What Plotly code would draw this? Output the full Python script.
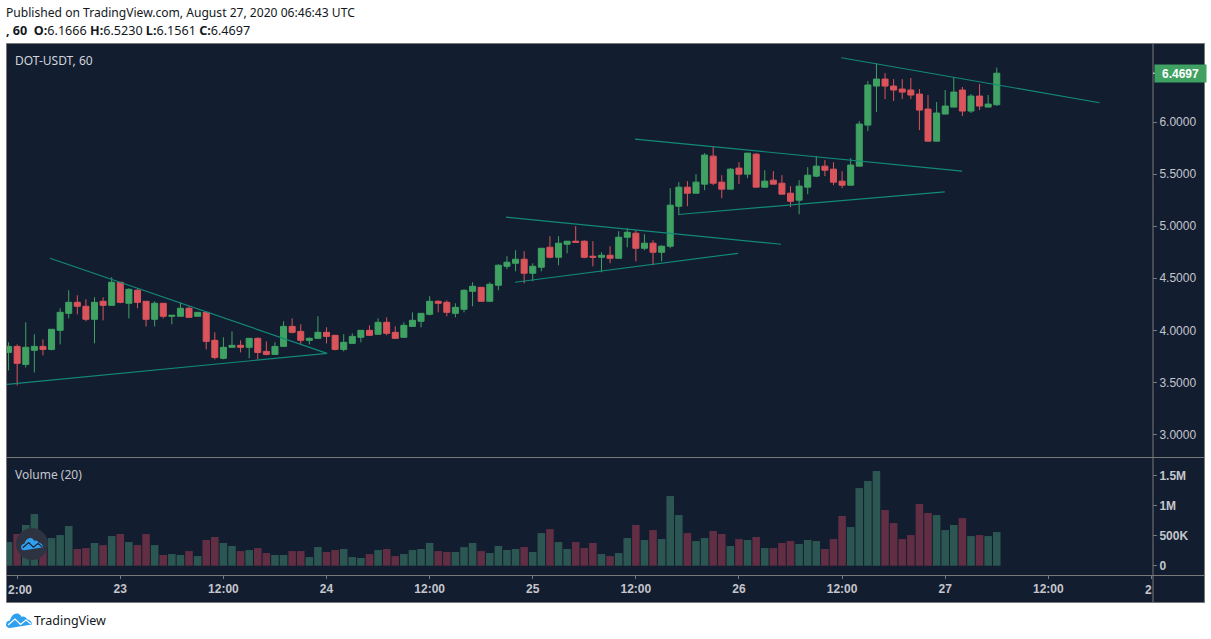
import pandas as pd
import plotly.graph_objects as go
from plotly.subplots import make_subplots

W = 1211
H = 639

# hourly candles
times = pd.date_range("2020-08-22 11:00", periods=116, freq="h")
opens = [3.788, 3.846, 3.673, 3.808, 3.846, 3.817, 4.0, 4.163, 4.269, 4.231, 4.106, 4.279, 4.24,
         4.462, 4.26, 4.385, 4.279, 4.106, 4.26, 4.135, 4.135, 4.212, 4.135, 4.173, 3.904, 3.731,
         3.837, 3.856, 3.837, 3.923, 3.798, 3.769, 3.846, 4.038, 3.99, 3.904, 3.923, 3.981, 3.952,
         3.817, 3.875, 3.933, 4.0, 3.962, 4.077, 3.981, 3.933, 4.038, 4.087, 4.154, 4.279, 4.269,
         4.163, 4.202, 4.375, 4.413, 4.279, 4.433, 4.615, 4.644, 4.683, 4.548, 4.606, 4.798, 4.702,
         4.827, 4.856, 4.856, 4.712, 4.702, 4.721, 4.692, 4.894, 4.933, 4.788, 4.837, 4.75, 4.808,
         5.192, 5.375, 5.317, 5.404, 5.673, 5.423, 5.356, 5.558, 5.5, 5.692, 5.375, 5.442, 5.413,
         5.317, 5.25, 5.375, 5.481, 5.577, 5.548, 5.433, 5.394, 5.577, 5.971, 6.346, 6.413, 6.346,
         6.317, 6.308, 6.269, 6.125, 5.817, 6.077, 6.144, 6.308, 6.106, 6.25, 6.144, 6.1666]
highs = [3.885, 3.865, 4.077, 3.962, 3.913, 4.01, 4.212, 4.385, 4.337, 4.298, 4.317, 4.317, 4.51,
         4.462, 4.404, 4.404, 4.279, 4.279, 4.26, 4.144, 4.269, 4.231, 4.173, 4.183, 3.981, 3.933,
         3.99, 3.904, 3.923, 3.933, 3.894, 3.885, 4.087, 4.115, 4.058, 3.933, 4.135, 4.029, 3.952,
         3.962, 3.971, 4.0, 4.048, 4.115, 4.125, 4.038, 4.077, 4.173, 4.163, 4.327, 4.288, 4.288,
         4.26, 4.394, 4.462, 4.413, 4.462, 4.635, 4.712, 4.769, 4.76, 4.644, 4.788, 4.904, 4.904,
         4.856, 5.0, 4.865, 4.856, 4.75, 4.808, 4.952, 4.981, 4.962, 4.923, 4.865, 4.817, 5.365,
         5.423, 5.433, 5.5, 5.702, 5.769, 5.49, 5.558, 5.615, 5.702, 5.702, 5.538, 5.529, 5.49,
         5.385, 5.442, 5.567, 5.673, 5.635, 5.615, 5.529, 5.654, 6.01, 6.394, 6.567, 6.471, 6.413,
         6.413, 6.423, 6.317, 6.26, 6.192, 6.308, 6.433, 6.337, 6.269, 6.365, 6.26, 6.523]
lows = [3.615, 3.471, 3.644, 3.596, 3.76, 3.808, 3.865, 4.115, 4.154, 4.087, 3.875, 4.096, 4.24,
        4.26, 4.115, 4.212, 4.038, 4.038, 4.115, 4.058, 4.135, 4.125, 4.135, 3.817, 3.721, 3.721,
        3.837, 3.788, 3.731, 3.721, 3.76, 3.769, 3.846, 3.971, 3.865, 3.865, 3.923, 3.875, 3.808,
        3.798, 3.875, 3.885, 3.952, 3.962, 3.952, 3.923, 3.933, 4.038, 4.029, 4.144, 4.173, 4.135,
        4.125, 4.173, 4.231, 4.279, 4.279, 4.385, 4.587, 4.567, 4.452, 4.471, 4.567, 4.692, 4.625,
        4.74, 4.846, 4.692, 4.615, 4.558, 4.644, 4.692, 4.798, 4.663, 4.769, 4.625, 4.663, 4.788,
        5.106, 5.192, 5.317, 5.346, 5.394, 5.269, 5.356, 5.404, 5.462, 5.375, 5.375, 5.404, 5.308,
        5.183, 5.115, 5.308, 5.471, 5.481, 5.394, 5.365, 5.394, 5.577, 5.913, 6.096, 6.221, 6.202,
        6.221, 6.221, 5.923, 5.817, 5.817, 6.077, 6.144, 6.058, 6.087, 6.115, 6.144, 6.1561]
closes = [3.846, 3.683, 3.837, 3.846, 3.817, 4.01, 4.173, 4.269, 4.231, 4.106, 4.269, 4.24, 4.462,
          4.269, 4.394, 4.269, 4.106, 4.26, 4.135, 4.144, 4.212, 4.125, 4.173, 3.894, 3.74, 3.837,
          3.856, 3.837, 3.923, 3.788, 3.769, 3.846, 4.038, 3.981, 3.904, 3.923, 3.981, 3.942, 3.817,
          3.885, 3.942, 4.0, 3.952, 4.077, 3.971, 3.923, 4.048, 4.096, 4.163, 4.279, 4.26, 4.173,
          4.221, 4.385, 4.423, 4.279, 4.442, 4.625, 4.654, 4.683, 4.548, 4.615, 4.788, 4.702, 4.837,
          4.856, 4.846, 4.702, 4.702, 4.721, 4.692, 4.894, 4.942, 4.788, 4.837, 4.75, 4.808, 5.202,
          5.375, 5.317, 5.423, 5.683, 5.413, 5.356, 5.548, 5.5, 5.702, 5.375, 5.433, 5.404, 5.308,
          5.24, 5.385, 5.49, 5.577, 5.538, 5.423, 5.394, 5.587, 5.981, 6.356, 6.413, 6.346, 6.308,
          6.288, 6.26, 6.115, 5.817, 6.087, 6.154, 6.288, 6.106, 6.25, 6.154, 6.173, 6.4697]
volumes = [394, 528, 678, 861, 300, 461, 511, 661, 278, 294, 378, 344, 494, 528, 394, 344, 528, 344,
           178, 194, 178, 244, 161, 428, 478, 378, 328, 244, 261, 294, 211, 178, 178, 244, 244, 144,
           311, 228, 261, 278, 144, 128, 194, 261, 278, 161, 194, 261, 278, 378, 244, 228, 228, 311,
           378, 244, 211, 328, 261, 278, 311, 228, 544, 611, 394, 278, 394, 294, 378, 194, 161, 211,
           461, 678, 428, 594, 444, 1161, 844, 544, 411, 461, 578, 528, 328, 444, 428, 478, 294, 294,
           378, 411, 361, 428, 411, 278, 444, 828, 644, 1294, 1411, 1578, 928, 711, 444, 511, 1028,
           878, 844, 594, 678, 794, 494, 511, 494, 561]
volumes = [v * 1000 for v in volumes]

# drawn trend lines as (start, end) time and price
line_times = [("2020-08-22 15:49", "2020-08-24 00:04"),
              ("2020-08-22 10:49", "2020-08-24 00:04"),
              ("2020-08-24 20:53", "2020-08-26 04:54"),
              ("2020-08-24 21:56", "2020-08-25 23:53"),
              ("2020-08-25 11:54", "2020-08-27 01:58"),
              ("2020-08-25 16:56", "2020-08-26 23:57"),
              ("2020-08-26 11:55", "2020-08-27 17:58")]
line_prices = [(4.692, 3.779), (3.481, 3.779), (5.087, 4.827), (4.462, 4.74),
               (5.837, 5.529), (5.1125, 5.33), (6.618, 6.186)]

price_ticks = [3, 3.5, 4, 4.5, 5, 5.5, 6]
price_labels = ["3.0000", "3.5000", "4.0000", "4.5000", "5.0000", "5.5000", "6.0000"]
vol_ticks = [0, 500000, 1000000, 1500000]
vol_labels = ["0", "500K", "1M", "1.5M"]
time_ticks = ["2020-08-22 12:00", "2020-08-23 00:00", "2020-08-23 12:00", "2020-08-24 00:00",
              "2020-08-24 12:00", "2020-08-25 00:00", "2020-08-25 12:00", "2020-08-26 00:00",
              "2020-08-26 12:00", "2020-08-27 00:00", "2020-08-27 12:00", "2020-08-28 00:00"]
time_labels = ["", "23", "12:00", "24", "12:00", "25", "12:00", "26", "12:00", "27", "12:00", ""]

BG = "#131d30"
EDGE = "#787878"
UP = "#3fa263"
DOWN = "#db545b"
UP_VOL = "#2c5652"
DOWN_VOL = "#612e43"
TREND = "#128a78"
AXIS_TEXT = "#c4c6cc"


def px(x):
    return x / W


def py(y):
    return 1 - y / H


def cloud_path(x, y, s):
    # little cloud of the logo, x/y in page pixels
    pts = "M {} {} C {} {} {} {} {} {} C {} {} {} {} {} {} C {} {} {} {} {} {} C {} {} {} {} {} {} C {} {} {} {} {} {} C {} {} {} {} {} {} Z"
    raw = [(4, 15), (1, 15), (0, 13), (0, 11.5), (0, 9), (2, 7.5), (4, 7.5), (5, 3), (8, 0.5), (11, 0.5),
           (13.5, 0.5), (15, 2.5), (15.5, 4), (17, 3), (20, 3.5), (21, 6.5), (24, 6.5), (26, 9), (26, 11.5),
           (26, 13.5), (24, 15), (22, 15)]
    vals = []
    for a, b in raw:
        vals += [round(px(x + a * s), 5), round(py(y + b * s), 5)]
    return pts.format(*vals[:44])


def zigzag_path(x, y, s):
    raw = [(2, 12), (9, 6), (14.5, 11.5), (20, 7), (25, 11)]
    return " ".join(("M" if i == 0 else "L") + f" {px(x + a * s):.5f} {py(y + b * s):.5f}"
                    for i, (a, b) in enumerate(raw))


fig = make_subplots(rows=2, cols=1, shared_xaxes=True, vertical_spacing=0)

fig.add_trace(go.Candlestick(x=times, open=opens, high=highs, low=lows, close=closes,
                             increasing=dict(line=dict(color=UP, width=1), fillcolor=UP),
                             decreasing=dict(line=dict(color=DOWN, width=1), fillcolor=DOWN),
                             showlegend=False), row=1, col=1)

for t, p in zip(line_times, line_prices):
    fig.add_trace(go.Scatter(x=list(t), y=list(p), mode="lines", line=dict(color=TREND, width=1.2),
                             showlegend=False, hoverinfo="skip"), row=1, col=1)

vol_colors = [UP_VOL if c >= o else DOWN_VOL for o, c in zip(opens, closes)]
fig.add_trace(go.Bar(x=times, y=volumes, marker=dict(color=vol_colors, line=dict(width=0)),
                     showlegend=False), row=2, col=1)

x_range = ["2020-08-22 10:49", "2020-08-28 00:04"]
x_domain = [px(7), px(1152)]
fig.update_xaxes(range=x_range, domain=x_domain, showgrid=False, zeroline=False, showline=False,
                 rangeslider_visible=False)
fig.update_xaxes(showticklabels=False, ticks="", row=1, col=1)
fig.update_xaxes(tickmode="array", tickvals=time_ticks, ticktext=time_labels, ticks="outside", ticklen=3,
                 tickcolor=EDGE, tickfont=dict(family="Liberation Sans", size=12, color=AXIS_TEXT, weight=700),
                 row=2, col=1)
fig.update_yaxes(range=[2.7788, 6.75], domain=[py(457.5), py(44)], side="right", showgrid=False,
                 zeroline=False, showline=False, tickmode="array", tickvals=price_ticks, ticktext=price_labels,
                 ticks="outside", ticklen=4, tickcolor=EDGE,
                 tickfont=dict(family="Liberation Sans", size=12, color=AXIS_TEXT), row=1, col=1)
fig.update_yaxes(range=[-155000, 1795000], domain=[py(575), py(458)], side="right", showgrid=False,
                 zeroline=False, showline=False, tickmode="array", tickvals=vol_ticks, ticktext=vol_labels,
                 ticks="outside", ticklen=4, tickcolor=EDGE,
                 tickfont=dict(family="Liberation Sans", size=12, color=AXIS_TEXT, weight=700), row=2, col=1)

paper = dict(xref="paper", yref="paper")
shapes = [
    # frame and separators
    dict(type="rect", x0=px(6.5), x1=px(1204.5), y0=py(602.5), y1=py(43.5), fillcolor=BG,
         line=dict(color=EDGE, width=1), layer="below", **paper),
    dict(type="line", x0=px(6.5), x1=px(1204.5), y0=py(457.5), y1=py(457.5),
         line=dict(color=EDGE, width=1), **paper),
    dict(type="line", x0=px(6.5), x1=px(1204.5), y0=py(575.5), y1=py(575.5),
         line=dict(color=EDGE, width=1), **paper),
    dict(type="line", x0=px(1153), x1=px(1153), y0=py(602.5), y1=py(43.5),
         line=dict(color=EDGE, width=1), **paper),
    # logo over the volume bars
    dict(type="circle", x0=px(16), x1=px(48), y0=py(560), y1=py(528), fillcolor="#2e3341",
         line=dict(width=0), **paper),
    dict(type="path", path=cloud_path(21, 537.5, 0.85), fillcolor="#2f9ff0", line=dict(width=0), **paper),
    dict(type="path", path=zigzag_path(21, 537.5, 0.85), line=dict(color="#1c2030", width=1.2), **paper),
    # logo under the chart
    dict(type="path", path=cloud_path(6, 613, 1.0), fillcolor="#2f9ff0", line=dict(width=0), **paper),
    dict(type="path", path=zigzag_path(6, 613, 1.0), line=dict(color="#ffffff", width=1.2), **paper),
    # tick of the last price
    dict(type="line", x0=px(1153), x1=px(1157), y0=closes[-1], y1=closes[-1], xref="paper", yref="y",
         line=dict(color="#ffffff", width=1)),
]


def note(text, x, y, size=12, color="#131722", family="Noto Sans", anchor="left"):
    return dict(text=text, x=px(x), y=py(y), xanchor=anchor, yanchor="middle", showarrow=False,
                font=dict(family=family, size=size, color=color), xref="paper", yref="paper", align="left")


annotations = [
    note("Published on TradingView.com, August 27, 2020 06:46:43 UTC", 4, 13, size=12.1),
    note("<b>, 60  O:</b>6.1666 <b>H:</b>6.5230 <b>L:</b>6.1561 <b>C:</b>6.4697", 4, 30, size=12.6),
    note("DOT-USDT, 60", 13, 60, color="#d1d4dc"),
    note("Volume (20)", 13, 474, color="#c4c6cc"),
    note("TradingView", 32, 620, size=12.5),
    note("<b>2:00</b>", 6, 590, color=AXIS_TEXT, family="Liberation Sans"),
    note("<b>2</b>", 1154, 590, color=AXIS_TEXT, family="Liberation Sans", anchor="right"),
    dict(text="<b>" + f"{closes[-1]:.4f}" + "</b>", x=px(1153.5), y=closes[-1], xanchor="left", yanchor="middle",
         xref="paper", yref="y", showarrow=False, width=51, height=17, bgcolor=UP, align="center",
         borderpad=0, font=dict(family="Liberation Sans", size=12, color="#ffffff")),
]

# boxgroupgap has to go to 0 or the candle bodies come out too thin
fig.update_layout(width=W, height=H, margin=dict(l=0, r=0, t=0, b=0), paper_bgcolor="#ffffff",
                  plot_bgcolor="rgba(0,0,0,0)", bargap=0.12, boxgap=0.3, boxgroupgap=0, showlegend=False,
                  shapes=shapes, annotations=annotations, hovermode=False)

fig.write_html("out.html", config={"displayModeBar": False},
               post_script="document.body.style.margin='0';document.body.style.overflow='hidden';")
